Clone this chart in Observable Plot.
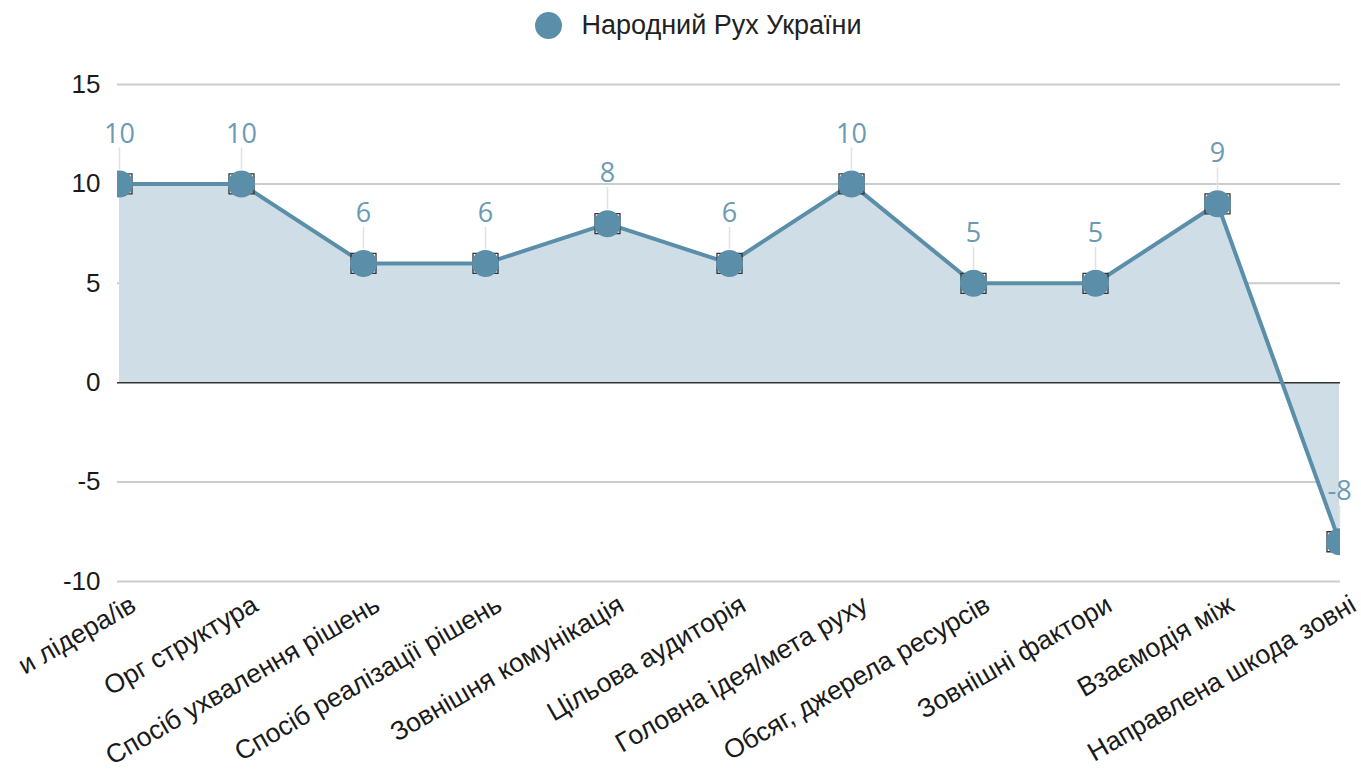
<!DOCTYPE html>
<html><head><meta charset="utf-8">
<script src="https://cdn.jsdelivr.net/npm/d3@7"></script>
<script src="https://cdn.jsdelivr.net/npm/@observablehq/plot@0.6"></script>
<style>
body{margin:0;background:#fff;font-family:"Liberation Sans",Arial,sans-serif;}
#legend{height:50px;display:flex;align-items:center;justify-content:center;padding-left:36px;box-sizing:border-box;font-size:27px;color:#222}
#legend .sw{width:27px;height:27px;border-radius:50%;background:#5b8fa9;margin-right:19px;display:inline-block}
</style></head><body>
<div id="legend"><span class="sw"></span><span id="legendText"></span></div>
<div id="chart"></div>
<script>
const seriesName = "Народний Рух України";
const categories = [
  "и лідера/ів",
  "Орг структура",
  "Спосіб ухвалення рішень",
  "Спосіб реалізації рішень",
  "Зовнішня комунікація",
  "Цільова аудиторія",
  "Головна ідея/мета руху",
  "Обсяг, джерела ресурсів",
  "Зовнішні фактори",
  "Взаємодія між",
  "Направлена шкода зовні"
];
const values = [10, 10, 6, 6, 8, 6, 10, 5, 5, 9, -8];
const yTicks = [-10, -5, 0, 5, 10, 15];

document.getElementById("legendText").textContent = seriesName;
const data = categories.map((c, i) => ({category: c, value: values[i]}));

const rectSym = {draw(ctx, size) { ctx.rect(-12.5, -10, 25, 20); }};
const lineColor = "#5b8fa9";

const chart = Plot.plot({
  width: 1361, height: 724,
  marginTop: 34, marginBottom: 193, marginLeft: 117, marginRight: 21,
  style: {fontFamily: "'Liberation Sans', Arial, sans-serif", background: "white", color: "#1a1a1a", overflow: "visible"},
  x: {type: "point", domain: categories, padding: 0, label: null},
  y: {domain: [-10, 15], ticks: yTicks, label: null},
  marks: [
    Plot.gridY(yTicks.filter(t => t !== 0), {stroke: "#cccccc", strokeOpacity: 1, strokeWidth: 2}),
    Plot.areaY(data, {x: "category", y: "value", fill: "#cfdde6", clip: true}),
    Plot.ruleY([0], {stroke: "#333", strokeWidth: 1.5}),
    Plot.ruleX(data, {x: "category", y1: "value", y2: "value", insetTop: -22, dy: -14, stroke: "#e2e2e2", strokeWidth: 1.5}),
    Plot.lineY(data, {x: "category", y: "value", stroke: lineColor, strokeWidth: 4, clip: true}),
    Plot.dot(data, {x: "category", y: "value", symbol: rectSym, stroke: "#333", strokeWidth: 1.3, fill: "none", clip: true}),
    Plot.dot(data, {x: "category", y: "value", r: 13.5, fill: lineColor, clip: true}),
    Plot.text(data, {x: "category", y: "value", text: d => String(d.value), dy: -50, fill: "#6b9bb3", fontSize: 27, fontFamily: "'Open Sans', sans-serif"}),
    Plot.axisY({ticks: yTicks, tickSize: 0, tickPadding: 17, fontSize: 26, tickFormat: d => String(d), label: null}),
    Plot.axisX({tickRotate: -30, tickSize: 0, tickPadding: 21, dx: 14, fontSize: 26.5, label: null})
  ]
});
document.getElementById("chart").appendChild(chart);
</script>
</body></html>
